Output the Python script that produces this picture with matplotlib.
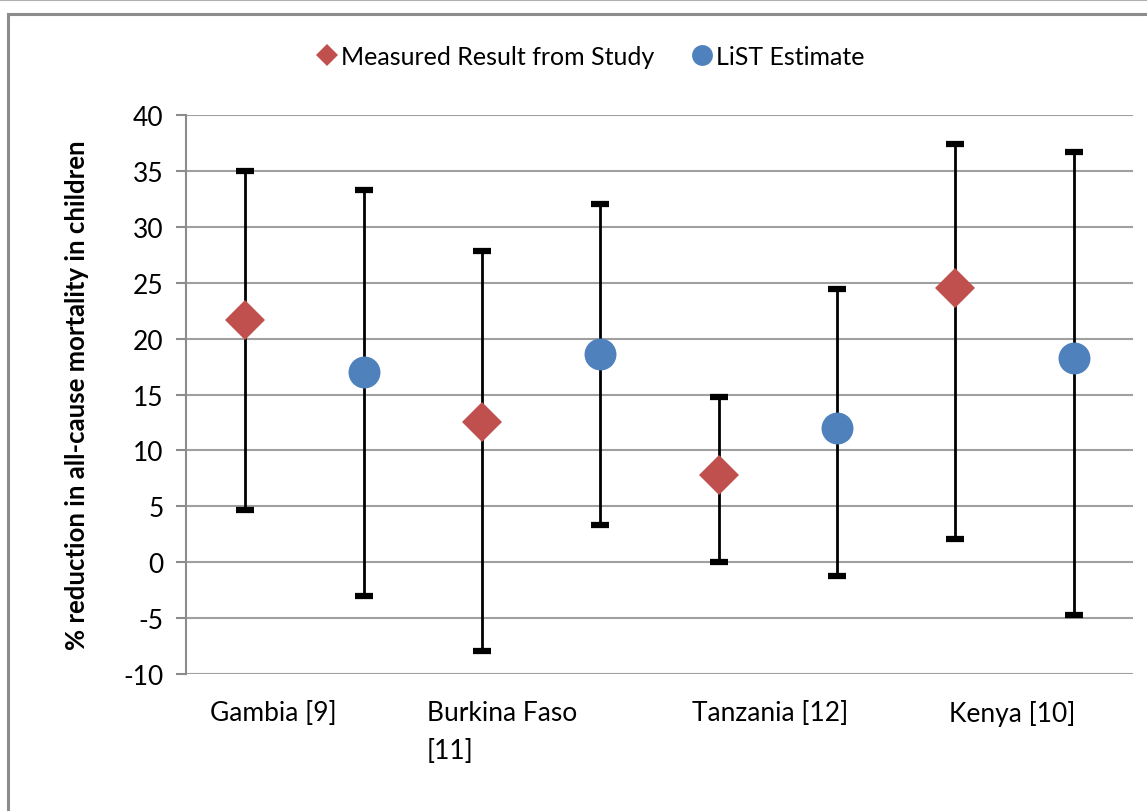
import matplotlib.pyplot as plt
from matplotlib.lines import Line2D
from matplotlib.patches import Rectangle

plt.rcParams['font.family'] = ['Lato', 'DejaVu Sans']
plt.rcParams['axes.unicode_minus'] = False

# Data
sites = ["Gambia [9]", "Burkina Faso\n[11]", "Tanzania [12]", "Kenya [10]"]
measured = [21.7, 12.5, 7.8, 24.5]
measured_low = [4.7, -7.9, 0.0, 2.1]
measured_high = [35.0, 27.8, 14.8, 37.4]
list_est = [17.0, 18.6, 12.0, 18.3]
list_low = [-3.0, 3.3, -1.2, -4.7]
list_high = [33.3, 32.0, 24.4, 36.7]

RED = '#C0504D'
BLUE = '#4F81BD'
GRID = '#A0A0A0'

fig = plt.figure(figsize=(11.47, 8.12), dpi=100)
ax = fig.add_axes([0.1622, 0.1687, 0.8256, 0.6884])

# outer chart frame (cropped on the right and bottom)
fig.add_artist(Rectangle((8 / 1147, -0.05), 1.2, 1 - 15 / 812 + 0.05,
                         transform=fig.transFigure, fill=False,
                         edgecolor='#8C8C8C', linewidth=2.2))
fig.add_artist(Line2D([0, 1], [0.999, 0.999], transform=fig.transFigure,
                      color='#B0B0B0', linewidth=1.5))

x_meas = [1 + 2 * i for i in range(len(sites))]
x_list = [2 + 2 * i for i in range(len(sites))]

def draw_series(xs, vals, lows, highs, marker, color, ms):
    yerr = [[v - lo for v, lo in zip(vals, lows)],
            [hi - v for v, hi in zip(vals, highs)]]
    ax.errorbar(xs, vals, yerr=yerr, fmt='none', ecolor='black',
                elinewidth=2, capsize=6.5, capthick=4.5, zorder=3)
    ax.plot(xs, vals, linestyle='none', marker=marker, color=color,
            markersize=ms, markeredgewidth=0, zorder=4)

draw_series(x_meas, measured, measured_low, measured_high, 'D', RED, 20)
draw_series(x_list, list_est, list_low, list_high, 'o', BLUE, 23)

ax.set_xlim(0.5, 8.5)
ax.set_ylim(-10, 40)
ax.set_yticks(range(-10, 41, 5))
ax.yaxis.grid(True, color=GRID, linewidth=1.5)
ax.set_axisbelow(True)
ax.set_xticks([])
for side in ['top', 'right', 'bottom']:
    ax.spines[side].set_visible(False)
ax.spines['left'].set_color('#8C8C8C')
ax.spines['left'].set_linewidth(1.5)
ax.tick_params(axis='y', length=7, width=1.5, color='#8C8C8C',
               labelsize=19, pad=9)

ax.set_ylabel('% reduction in all-cause mortality in children',
              fontsize=18.5, fontweight='bold', labelpad=25)

# category labels under the axis
label_x = [0.70, 2.535, 4.774, 6.944]
for lx, name in zip(label_x, sites):
    ax.text(lx, -0.047, name, transform=ax.get_xaxis_transform(),
            ha='left', va='top', fontsize=19, linespacing=1.65)

handles = [
    Line2D([], [], linestyle='none', marker='D', color=RED, markersize=11,
           markeredgewidth=0, label='Measured Result from Study'),
    Line2D([], [], linestyle='none', marker='o', color=BLUE, markersize=15,
           markeredgewidth=0, label='LiST Estimate'),
]
fig.legend(handles=handles, loc='center', bbox_to_anchor=(0.514, 0.929),
           ncol=2, frameon=False, fontsize=18, handletextpad=0.05,
           columnspacing=1.4, handlelength=1.0)

fig.savefig('out.png', dpi=100)
